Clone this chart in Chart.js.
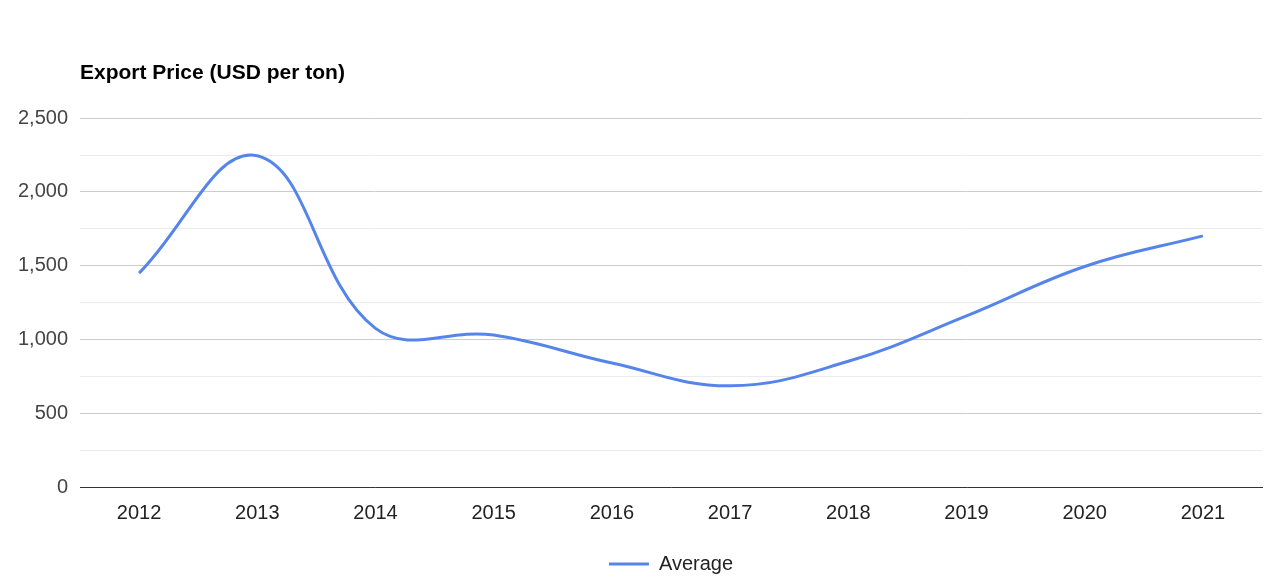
<!DOCTYPE html>
<html>
<head>
<meta charset="utf-8">
<script src="https://cdn.jsdelivr.net/npm/chart.js@4"></script>
<style>
  html, body { margin: 0; padding: 0; background: #fff; }
  #wrap { width: 1278px; height: 587px; }
</style>
</head>
<body>
<div id="wrap"><canvas id="myChart" width="1278" height="587"></canvas></div>
<script>
// data
const years = ['2012', '2013', '2014', '2015', '2016', '2017', '2018', '2019', '2020', '2021'];
const average = [1450, 2245, 1075, 1030, 840, 686, 852, 1160, 1495, 1702];
const yTicks = [0, 500, 1000, 1500, 2000, 2500];

const ctx = document.getElementById('myChart').getContext('2d');
window.myChart = new Chart(ctx, {
  type: 'line',
  data: {
    labels: years,
    datasets: [
      {
        label: 'Average',
        data: average,
        borderColor: '#5585ea',
        backgroundColor: '#5585ea',
        borderWidth: 3,
        pointRadius: 0,
        pointHoverRadius: 0,
        tension: 0.4,
        fill: false
      }
    ]
  },
  options: {
    responsive: false,
    animation: false,
    layout: {
      padding: { left: 0, right: 16, top: 0, bottom: 3 }
    },
    plugins: {
      title: {
        display: true,
        text: 'Export Price (USD per ton)',
        align: 'start',
        fullSize: false,
        color: '#000',
        font: { family: 'Arial, "Liberation Sans"', size: 21, weight: 'bold' },
        padding: { top: 61, bottom: 32 }
      },
      legend: {
        display: true,
        position: 'bottom',
        fullSize: false,
        labels: {
          usePointStyle: true,
          pointStyle: 'line',
          pointStyleWidth: 40,
          color: '#222',
          font: { family: 'Arial, "Liberation Sans"', size: 20 },
          padding: 10
        }
      },
      tooltip: { enabled: false }
    },
    scales: {
      x: {
        offset: true,
        grid: { display: false },
        border: { display: true, color: '#333', width: 1 },
        ticks: {
          color: '#222',
          padding: 6,
          maxRotation: 0,
          font: { family: 'Arial, "Liberation Sans"', size: 20 }
        },
        afterFit: (scale) => { scale.height = 57; }
      },
      y: {
        min: 0,
        max: 2500,
        border: { display: false },
        grid: {
          drawTicks: false,
          color: (c) => (c.tick && c.tick.value % 500 === 0) ? '#cccccc' : '#ebebeb'
        },
        ticks: {
          stepSize: 250,
          padding: 12,
          color: '#444',
          font: { family: 'Arial, "Liberation Sans"', size: 20 },
          callback: (v) => yTicks.includes(v) ? v.toLocaleString('en-US') : ''
        },
        afterFit: (scale) => { scale.width = 80; }
      }
    }
  }
});
</script>
</body>
</html>
